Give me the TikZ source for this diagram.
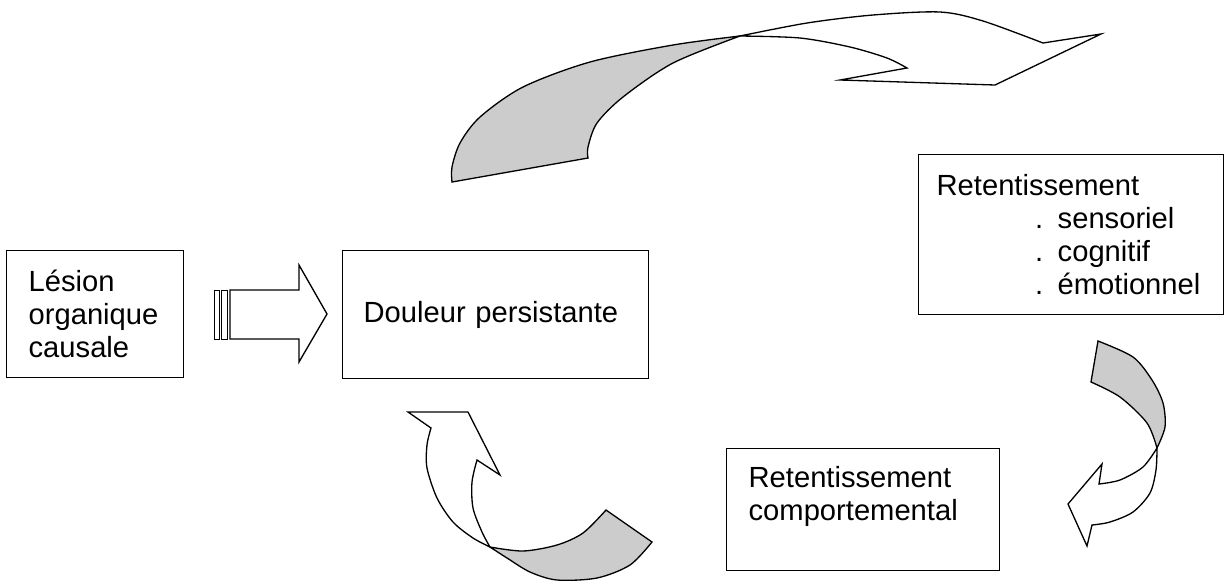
\documentclass[tikz,border=0pt]{standalone}
\usepackage{fontspec}
\setmainfont{Liberation Sans}
\usepackage{tikz}

\definecolor{twistgray}{gray}{0.8}
\tikzset{
	box/.style={draw, line width=0.75pt, anchor=north west, align=left, inner ysep=0pt, font=\fontsize{16.6}{18.7}\selectfont},
	arrowface/.style={draw, line width=0.75pt, fill=white, line join=miter},
	arrowback/.style={draw, line width=0.75pt, fill=twistgray, line join=miter},
	stripe/.style={draw, line width=0.45pt, fill=white}
}

\begin{document}
\begin{tikzpicture}[x=0.02cm, y=-0.02cm]
			\useasboundingbox (0,0) rectangle (1225,583); % page frame
			\node[box, minimum width=3.54cm, minimum height=2.54cm, inner xsep=0.44cm, text width=2.66cm] (lesion) at (6,250) {Lésion\\organique\\causale}; % cause box
			\node[box, minimum width=6.12cm, minimum height=2.56cm, inner xsep=0.42cm, text width=5.28cm] (douleur) at (342,250) {Douleur persistante}; % pain box
			\node[box, minimum width=6.10cm, minimum height=3.20cm, inner xsep=0.36cm, text width=5.38cm] (retsens) at (918,154) {Retentissement\\\hspace*{56pt}. sensoriel\\\hspace*{56pt}. cognitif\\\hspace*{56pt}. émotionnel}; % first effect box
			\node[box, minimum width=5.46cm, minimum height=2.44cm, inner xsep=0.44cm, text width=4.58cm] (retcomp) at (726,448) {Retentissement\\comportemental\\~}; % behaviour box
			\draw[stripe] (214,290) rectangle (219,339); % first stripe
			\draw[stripe] (221,290) rectangle (227,339); % second stripe
			\draw[arrowface] (230,290) -- (299,290) -- (299,265) -- (327,314) -- (299,362) -- (299,339) -- (230,339) -- cycle; % striped arrow
			\draw[arrowback] plot[smooth] coordinates {(452,182) (452,167) (460,143) (480,117) (523,87) (590,62) (673,45) (740,36)}
				-- plot[smooth] coordinates {(740,36) (673,63) (623,97) (597,123) (588,147) (588,158)} -- cycle; % top arrow, tail
			\draw[arrowface] plot[smooth] coordinates {(740,36) (807,23) (873,15) (940,12) (983,21) (1043,43)}
				-- (1101,34) -- (995,85) -- (840,80) -- (907,68)
				-- plot[smooth] coordinates {(907,68) (887,58) (850,47) (800,38) (740,36)} -- cycle; % top arrow, head
			\draw[arrowback] plot[smooth] coordinates {(1098,341) (1133,357) (1152,380) (1163,403) (1165,427) (1157,448)}
				-- plot[smooth] coordinates {(1157,448) (1147,423) (1120,397) (1091,382)} -- cycle; % right arrow, tail
			\draw[arrowface] plot[smooth] coordinates {(1157,448) (1156,470) (1150,493) (1133,512) (1110,522) (1092,525)}
				-- (1087,546) -- (1068,504) -- (1102,464) -- (1099,484)
				-- plot[smooth] coordinates {(1099,484) (1120,480) (1143,467) (1157,448)} -- cycle; % right arrow, head
			\draw[arrowback] plot[smooth] coordinates {(490,547) (523,551) (557,545) (583,533) (606,510)}
				-- (652,542)
				-- plot[smooth] coordinates {(652,542) (630,565) (597,578) (557,580) (530,572) (507,558) (490,547)} -- cycle; % bottom arrow, tail
			\draw[arrowface] plot[smooth] coordinates {(490,547) (482,532) (473,508) (472,482) (477,460)}
				-- (500,475) -- (468,412) -- (408,412) -- (431,428)
				-- plot[smooth] coordinates {(431,428) (427,445) (427,468) (437,498) (453,522) (473,538) (490,547)} -- cycle; % bottom arrow, head
\end{tikzpicture}
\end{document}
